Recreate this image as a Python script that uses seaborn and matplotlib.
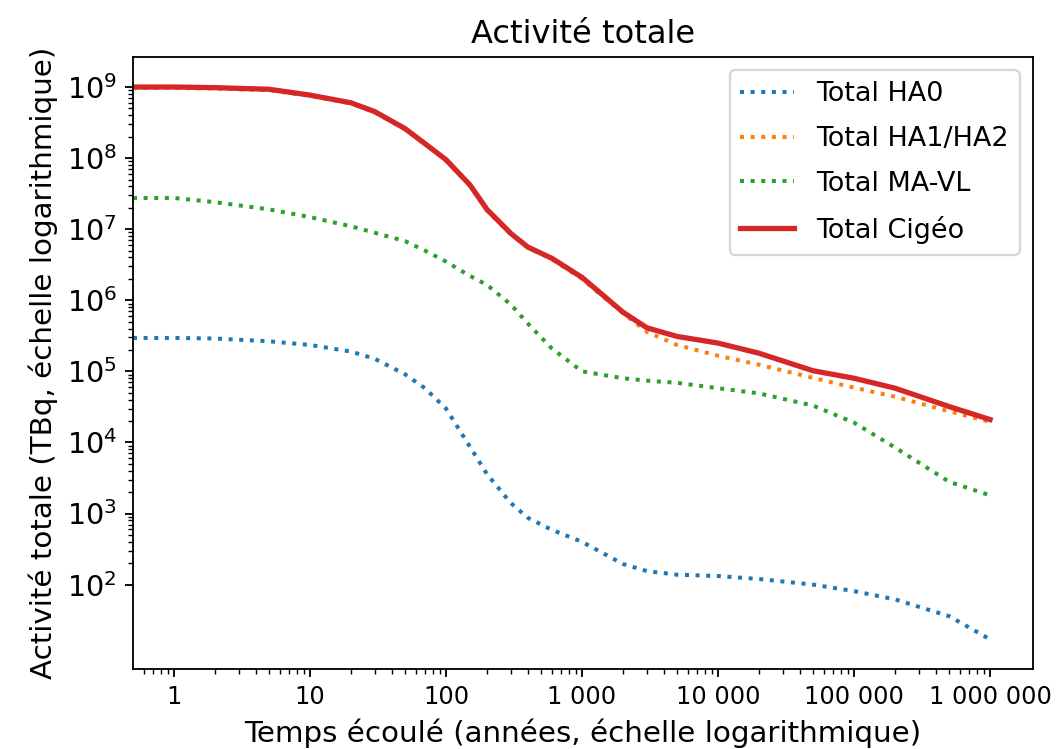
import numpy as np
import pandas as pd
import seaborn as sns
import matplotlib.pyplot as plt
from matplotlib.ticker import FixedLocator, FuncFormatter, NullFormatter

#-------------------------------------------data
temps = [0.5, 1, 2, 5, 10, 20, 30, 50, 70, 100, 150, 200, 300, 400, 600,
         1000, 2000, 3000, 5000, 10000, 20000, 50000, 100000, 200000, 500000, 1000000]

total_ha0 = [2.95e5, 2.95e5, 2.9e5, 2.65e5, 2.35e5, 1.9e5, 1.5e5, 9.1e4, 5.8e4, 3.0e4,
             8.7e3, 3.6e3, 1.4e3, 870, 590, 400, 195, 155, 138, 132, 120, 100, 81, 62, 36, 17]

total_ha12 = [9.7e8, 9.7e8, 9.5e8, 9.0e8, 7.5e8, 5.9e8, 4.4e8, 2.55e8, 1.57e8, 9.3e7,
              4.1e7, 1.85e7, 8.5e6, 5.5e6, 3.8e6, 2.0e6, 6.6e5, 3.6e5, 2.35e5, 1.66e5,
              1.24e5, 8.1e4, 5.9e4, 4.4e4, 2.75e4, 1.95e4]

total_mavl = [2.75e7, 2.75e7, 2.4e7, 1.9e7, 1.48e7, 1.1e7, 8.9e6, 6.8e6, 5.0e6, 3.5e6,
              2.2e6, 1.65e6, 8.7e5, 4.7e5, 2.1e5, 1.0e5, 8.0e4, 7.4e4, 6.9e4, 5.8e4,
              4.9e4, 3.3e4, 1.9e4, 8.5e3, 2.8e3, 1.8e3]

total_cigeo = [1.0e9, 1.0e9, 9.8e8, 9.3e8, 7.7e8, 6.0e8, 4.5e8, 2.6e8, 1.6e8, 9.5e7,
               4.2e7, 1.9e7, 8.7e6, 5.6e6, 3.9e6, 2.1e6, 6.8e5, 4.1e5, 3.1e5, 2.5e5,
               1.8e5, 1.02e5, 8.0e4, 5.8e4, 3.2e4, 2.1e4]

labels = ["Total HA0", "Total HA1/HA2", "Total MA-VL", "Total Cigéo"]

data = pd.DataFrame({"temps": temps, "Total HA0": total_ha0, "Total HA1/HA2": total_ha12,
                     "Total MA-VL": total_mavl, "Total Cigéo": total_cigeo})

#-------------------------------------------plot
fig = plt.figure(figsize=(1058 / 165, 749 / 165), dpi=165)
ax = fig.add_axes([0.1257, 0.1068, 0.8507, 0.8175])
ax.set_xscale("log")
ax.set_yscale("log")

styles = {"Total HA0": ("tab:blue", ":", 1.75),
          "Total HA1/HA2": ("tab:orange", ":", 1.75),
          "Total MA-VL": ("tab:green", ":", 1.75),
          "Total Cigéo": ("tab:red", "-", 2.3)}
for name in labels:
    c, ls, lw = styles[name]
    sns.lineplot(x="temps", y=name, data=data, ax=ax, color=c, linestyle=ls,
                 linewidth=lw, label=name)

ax.set_xlim(0.5, 2.07e6)
ax.set_ylim(6.5, 2.67e9)

# ticks: majors per decade, minors only where the original shows them
ax.xaxis.set_major_locator(FixedLocator([10.0 ** k for k in range(0, 7)]))
ax.xaxis.set_major_formatter(FuncFormatter(lambda v, p: f"{int(round(v)):,}".replace(",", " ")))
xminor = [m * 10.0 ** k for k in range(-1, 6) for m in range(2, 10) if m * 10.0 ** k >= 0.55]
ax.xaxis.set_minor_locator(FixedLocator(xminor))
ax.xaxis.set_minor_formatter(NullFormatter())

ax.yaxis.set_major_locator(FixedLocator([10.0 ** k for k in range(2, 10)]))
ax.yaxis.set_major_formatter(FuncFormatter(lambda v, p: r"$10^{%d}$" % round(np.log10(v))))
yminor = [m * 10.0 ** k for k in range(2, 9) for m in range(2, 10)]
ax.yaxis.set_minor_locator(FixedLocator(yminor))
ax.yaxis.set_minor_formatter(NullFormatter())
ax.tick_params(axis="y", labelsize=12.5)
ax.tick_params(axis="x", labelsize=10.5)

ax.set_title("Activité totale", fontsize=14)
ax.set_xlabel("Temps écoulé (années, échelle logarithmique)", fontsize=12.8)
ax.set_ylabel("Activité totale (TBq, échelle logarithmique)", fontsize=12.8)
ax.legend(loc="upper right", fontsize=11.8, labelspacing=0.7)

fig.savefig("out.png", dpi=165)
